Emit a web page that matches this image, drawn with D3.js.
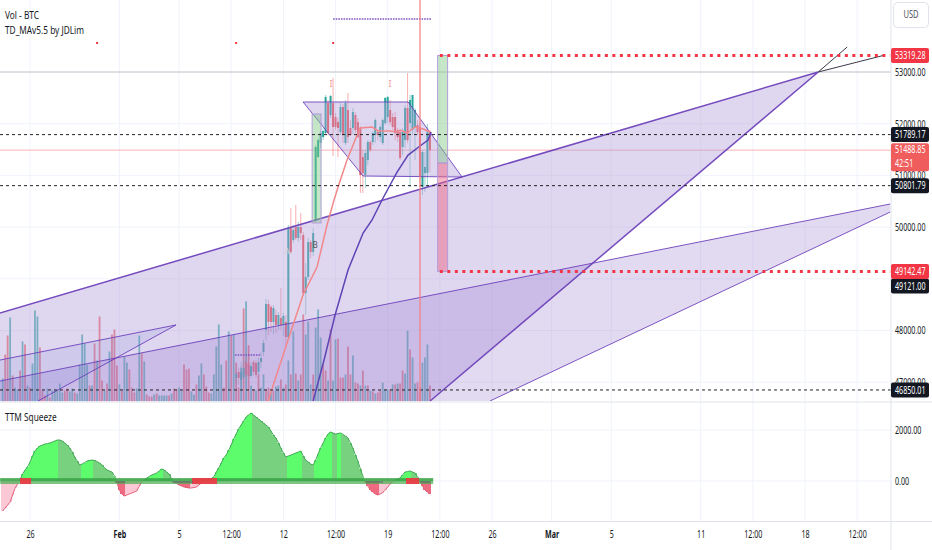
<!DOCTYPE html>
<html>
<head>
<meta charset="utf-8">
<script src="https://cdn.jsdelivr.net/npm/d3@7"></script>
<style>
  html, body { margin: 0; padding: 0; background: #fff; overflow: hidden; }
  text { font-family: "Noto Sans", sans-serif; fill: #131722; }
</style>
</head>
<body>
<script>
// days are counted from 1 Jan, so 1 Feb = 32 and 1 Mar = 61
var timeTicks = [26, 32, 36, 39.5, 43, 46.5, 50, 53.5, 57, 61, 65, 71, 74.5, 78, 81.5];
var timeLabels = ["26", "Feb", "5", "12:00", "12", "12:00", "19", "12:00", "26", "Mar", "5", "11", "12:00", "18", "12:00"];
var priceTicks = [47000, 48000, 49000, 50000, 51000, 52000, 53000];
var ttmTicks = [0, 2000];

var volumes = [23,47,66,84,26,14,12,31,60,57,16,14,38,91,85,54,11,6,13,4,11,11,11,18,9,11,13,10,13,9,
  8,37,67,58,37,16,16,58,41,85,21,11,18,50,67,72,36,17,11,45,39,32,14,9,13,66,48,40,7,5,
  5,7,8,6,6,6,6,6,8,13,12,14,11,37,32,33,10,7,17,26,38,27,15,9,8,27,55,77,
  37,14,41,70,66,67,39,14,34,93,100,56,16,12,11,27,14,27,12,14,
  9,11,15,16,22,14,17,41,27,70,28,21,27,87,67,80,17,27,74,92,
  64,37,31,21,72,21,62,63,24,24,27,55,27,46,19,18,16,31,16,16,
  11,10,8,9,11,19,12,12,12,17,17,18,18,31,28,71,52,44,18,19,14,39,44,57,16];
var volumeSides = "trrtrttrtr" + "trtttrrrtr" + "tttttrrttr" + "tttttrtrtr" + "rtrtrrrtrt" + "trrrttrtrr" + "rtrttttrtr" + "rttrrrttrt" + "trrrtttt" +
  "trrtrtrrtr" + "trtrtrttrr" + "trttrtrtrt" + "rtrrtttrtt" + "trrtrttrrr" + "trrtrrtrtr" + "trtrrtttrt" + "rtrrttrttr" + "rtttr";

// first candle drawn is bar 94, earlier ones are below the pane
var firstCandle = 94;
var candleOpen = [47082,47198,47043,47101,47391,47353,47120,47391,47372,47198,
  47391,47585,48010,48513,48455,48165,48300,48107,48242,48107,
  48165,47874,49983,49750,50002,49789,50002,49847,48725,49035,
  49712,49518,50138,51356,51626,51742,51820,52400,52168,52400,
  52129,52032,51839,52323,51626,52265,51917,51917,52168,52032,
  51917,51356,51008,51298,51646,51646,51781,51839,51742,51626,
  52013,52129,52265,52129,52129,51878,51839,51549,51684,52303,
  52013,51878,51917,51975,51936,50775,51046,51046,51839];
var candleHigh = [47198,47275,47391,47430,47469,47720,47391,47430,47430,47469,
  47585,47816,48609,48590,48493,48493,48397,48358,48822,48339,
  48300,50041,50369,50041,50428,50099,50273,49905,49306,49789,
  49750,49983,51588,51723,51859,51917,52555,52458,52555,52884,
  52207,52110,52400,52381,52458,52594,52071,52303,52226,52110,
  51955,51491,51491,51684,51684,51859,52110,51878,51975,52110,
  52516,52536,52458,52207,52226,51917,51878,51917,52361,52980,
  52555,52555,52303,52071,52032,51491,51452,51994,51878];
var candleLow = [46966,46947,46888,47043,47082,47120,47082,47120,47082,47140,
  47275,47507,47816,47913,47971,47932,47952,48010,48010,47894,
  47720,47816,49480,49692,49750,49712,49750,48667,48300,48977,
  49402,49441,50079,51336,51530,51684,51801,51781,52110,51375,
  51878,51356,51781,51626,51588,51626,51762,51801,51820,51723,
  50660,50660,50756,51201,51452,51588,51626,51684,51646,51588,
  51975,52013,51975,51878,51684,51646,51298,51394,51530,51626,
  50775,51781,51298,51781,50775,50621,50679,50775,51065];
var candleClose = [47159,47082,47198,47275,47140,47120,47314,47198,47140,47391,
  47469,47758,48513,48165,48165,48435,48107,48300,48107,48281,
  47874,49983,49518,49944,49789,50002,49886,48725,49035,49712,
  49518,49886,51549,51684,51820,51859,52516,51820,52536,51936,
  51936,51917,52323,51781,52400,51742,51781,52226,51878,51742,
  51008,51046,51433,51646,51491,51820,52071,51781,51936,52071,
  52497,52516,52032,51936,51820,51742,51336,51839,52303,51684,
  52458,52555,52265,51839,50969,51452,51162,51839,51488.85];

var fastMaDays = [41.97,43.25,44.32,45.26,45.93,46.4,46.67,47.27,47.68,48.15,48.95,49.36,50.16,50.63,50.83,51.3,51.84,52.38,52.85];
var fastMa = [46637,47758,48687,49229,50041,50524,50775,51298,51588,51917,51936,51859,51859,51839,51878,51820,51936,51897,51839];
var slowMaDays = [45,45.73,46.47,47.34,48.35,48.95,49.62,50.16,50.63,51.37,52.17,52.71,52.91];
var slowMa = [46637,47430,48300,49171,49886,50138,50524,50814,51065,51394,51569,51684,51839];

// chart drawings, as [day, price]
var wedgeA = [[23,48256],[78.89,53000],[52.85,46637],[23,46637]];
var wedgeB = [[23,46966],[83.72,50447],[83.72,50292],[56.87,46637],[23,46637]];
var wedgeC = [[23,47372],[35.8,48107],[26.54,46637],[23,46637]];
var channel = [[44.32,52420],[51.37,52420],[54.99,50969],[48.35,50988]];
var tailA = [[78.89,53000],[83.38,53329]];
var tailB = [[78.89,53000],[80.83,53483]];
var smallBox = [[44.93,52188],[45.53,50080]];
var longUpper = [[53.35,53319.28],[54.02,51240]];
var longLower = [[53.35,51240],[54.02,49142.47]];
var targetLevels = [53319.28, 49142.47];
var targetDays = [53.5, 83.72];
var dashedLevels = [51789.17, 50801.79, 46850.01];
var topDotted = [[46.34,54025],[52.91,54025]];
var lowDotted = [[39.76,47527],[41.44,47527]];
var redTicks = [[30.5,53561],[39.83,53561],[46.34,53561]];
var markI = [[46.2,52768],[50.16,52768]];
var nowDay = 52.17;
var lastPrice = 51488.85;

var ttmValues = [-1176,-1058,-941,-823,-549,-274,-118,39,274,431,
  549,745,980,1176,1294,1372,1411,1450,1470,1490,
  1529,1568,1607,1607,1568,1490,1411,1294,1137,941,
  784,627,666,725,784,804,823,804,764,706,
  627,529,431,392,353,196,-78,-353,-510,-588,
  -549,-510,-470,-431,-392,-196,-39,39,118,176,
  235,274,314,392,470,431,353,274,78,-39,
  -98,-157,-196,-235,-255,-274,-274,-255,-235,-157,
  -78,-20,20,59,98,157,353,510,706,902,
  1019,1215,1411,1646,1842,2038,2195,2352,2509,2587,
  2666,2587,2509,2430,2352,2274,2195,2117,1960,1803,
  1686,1490,1294,1098,941,980,1019,1058,1098,1137,
  1176,980,823,745,666,627,823,1058,1294,1490,
  1686,1842,1921,1882,1842,1862,1882,1823,1764,1686,
  1490,1294,1019,784,470,196,-39,-196,-353,-431,
  -510,-549,-510,-451,-353,-235,-118,-20,39,78,
  118,235,353,372,392,353,314,157,-39,-196,
  -353,-431,-510];
var squeezeRuns = [[25.33,26.07],[36.87,38.55],[51.23,52.11]];
var neutralRuns = [[31.77,32.38],[35.53,36.94],[48.55,49.69],[52.17,52.85]];
var zeroBandDays = [24, 53.05];

var width = 932, height = 550;
var axisX = 891, paneBottom = 401.5, lowerBottom = 521;

var x = d3.scaleLinear().domain([26, 78]).range([30, 805]);
var y = d3.scaleLinear().domain([47000, 53000]).range([382.2, 72]);
var yVol = d3.scaleLinear().domain([0, 100]).range([paneBottom, paneBottom - 100]);
var yTtm = d3.scaleLinear().domain([0, 2000]).range([481, 430]);

function barDay(i) { return 24 + (i + 1) / 6; }

// the reference type is much narrower than any installed font
function squeeze(sel, factor) {
  sel.each(function() {
    var tx = +this.getAttribute("x") || 0;
    this.setAttribute("transform", "translate(" + tx * (1 - factor) + ",0) scale(" + factor + ",1)");
  });
}

var svg = d3.select("body").append("svg").attr("width", width).attr("height", height).style("display", "block");

svg.append("clipPath").attr("id", "pricePane").append("rect")
  .attr("x", 0).attr("y", 0).attr("width", axisX).attr("height", paneBottom);

// grid
var grid = svg.append("g").attr("stroke", "#f0f3fa").attr("stroke-width", 1);
timeTicks.forEach(function(d) {
  grid.append("line").attr("x1", x(d)).attr("x2", x(d)).attr("y1", 0).attr("y2", lowerBottom);
});
priceTicks.forEach(function(d) {
  grid.append("line").attr("x1", 0).attr("x2", axisX).attr("y1", y(d)).attr("y2", y(d));
});
ttmTicks.forEach(function(d) {
  grid.append("line").attr("x1", 0).attr("x2", axisX).attr("y1", yTtm(d)).attr("y2", yTtm(d));
});

var pane = svg.append("g").attr("clip-path", "url(#pricePane)");

// volume
pane.append("g").selectAll("rect").data(volumes).enter().append("rect")
  .attr("x", function(d, i) { return x(barDay(i)) - 0.9; })
  .attr("y", function(d) { return yVol(d); })
  .attr("width", 1.8)
  .attr("height", function(d) { return yVol(0) - yVol(d); })
  .attr("fill", function(d, i) { return volumeSides[i] == "t" ? "#26a69a" : "#ef5350"; })
  .attr("opacity", 0.78);

// level lines under the candles
pane.append("line").attr("x1", 0).attr("x2", axisX).attr("y1", y(53000)).attr("y2", y(53000))
  .attr("stroke", "#c4c6cc").attr("stroke-width", 1);
pane.append("line").attr("x1", 0).attr("x2", axisX).attr("y1", y(lastPrice)).attr("y2", y(lastPrice))
  .attr("stroke", "#f9b3b3").attr("stroke-width", 1);

// candles
candleOpen.forEach(function(open, k) {
  var i = firstCandle + k;
  var close = candleClose[k];
  var color = close >= open ? "#26a69a" : "#ef5350";
  var cx = x(barDay(i));
  pane.append("line").attr("x1", cx).attr("x2", cx)
    .attr("y1", y(candleHigh[k])).attr("y2", y(candleLow[k]))
    .attr("stroke", color).attr("stroke-width", 1).attr("opacity", 0.45);
  pane.append("rect").attr("x", cx - 1).attr("width", 2)
    .attr("y", y(Math.max(open, close)))
    .attr("height", Math.max(1, Math.abs(y(open) - y(close))))
    .attr("fill", color);
});

// purple drawings
var area = function(points) {
  return d3.line().x(function(d) { return x(d[0]); }).y(function(d) { return y(d[1]); })(points);
};
var purple = "#673ab7";

pane.append("path").attr("d", area(wedgeA) + "Z").attr("fill", "#b39ddb").attr("fill-opacity", 0.42);
pane.append("path").attr("d", area(wedgeB) + "Z").attr("fill", "#9575cd").attr("fill-opacity", 0.27);
pane.append("path").attr("d", area(wedgeC) + "Z").attr("fill", "#7e88d8").attr("fill-opacity", 0.16);

pane.append("path").attr("d", area(wedgeA.slice(0, 3))).attr("fill", "none").attr("stroke", purple).attr("stroke-width", 1.5).attr("opacity", 0.9);
pane.append("path").attr("d", area(wedgeB.slice(0, 2))).attr("fill", "none").attr("stroke", purple).attr("stroke-width", 1).attr("opacity", 0.85);
pane.append("path").attr("d", area(wedgeB.slice(2, 4))).attr("fill", "none").attr("stroke", purple).attr("stroke-width", 1).attr("opacity", 0.85);
pane.append("path").attr("d", area(wedgeC.slice(0, 3))).attr("fill", "none").attr("stroke", purple).attr("stroke-width", 1).attr("opacity", 0.85);
pane.append("path").attr("d", area(tailA)).attr("stroke", "#3b3a4a").attr("stroke-width", 1);
pane.append("path").attr("d", area(tailB)).attr("stroke", "#3b3a4a").attr("stroke-width", 1);

pane.append("path").attr("d", area(channel) + "Z").attr("fill", "#b39ddb").attr("fill-opacity", 0.42)
  .attr("stroke", purple).attr("stroke-width", 1).attr("stroke-opacity", 0.85);

function box(corners, fill, opacity) {
  pane.append("rect")
    .attr("x", x(corners[0][0])).attr("width", x(corners[1][0]) - x(corners[0][0]))
    .attr("y", y(corners[0][1])).attr("height", y(corners[1][1]) - y(corners[0][1]))
    .attr("fill", fill).attr("fill-opacity", opacity)
    .attr("stroke", "#b39ddb").attr("stroke-width", 1);
}
box(smallBox, "#81c784", 0.45);
box(longUpper, "#81c784", 0.45);
box(longLower, "#ef5f7c", 0.45);

// moving averages
pane.append("path").attr("d", area(d3.zip(fastMaDays, fastMa))).attr("fill", "none").attr("stroke", "#f2888a").attr("stroke-width", 1.5);
pane.append("path").attr("d", area(d3.zip(slowMaDays, slowMa))).attr("fill", "none").attr("stroke", "#5e44b5").attr("stroke-width", 1.5);

// dashed levels
dashedLevels.forEach(function(d) {
  pane.append("line").attr("x1", 0).attr("x2", axisX).attr("y1", y(d)).attr("y2", y(d))
    .attr("stroke", "#222").attr("stroke-width", 1).attr("stroke-dasharray", "3,3");
});

// target levels of the position
targetLevels.forEach(function(d) {
  pane.append("line").attr("x1", x(targetDays[0])).attr("x2", x(targetDays[1])).attr("y1", y(d)).attr("y2", y(d))
    .attr("stroke", "#f23645").attr("stroke-width", 3).attr("stroke-dasharray", "3,4.5");
});

[topDotted, lowDotted].forEach(function(d) {
  pane.append("path").attr("d", area(d)).attr("stroke", "#7e57c2").attr("stroke-width", 1.6).attr("stroke-dasharray", "1.6,1");
});

redTicks.forEach(function(d) {
  pane.append("rect").attr("x", x(d[0]) - 1).attr("y", y(d[1]) - 1).attr("width", 2).attr("height", 2).attr("fill", "#f23645");
});

markI.forEach(function(d) {
  pane.append("text").attr("x", x(d[0])).attr("y", y(d[1]) + 3).attr("text-anchor", "middle")
    .attr("font-size", 9).style("fill", "#ef9a9a").text("I");
});
pane.append("text").attr("x", x(43.25)).attr("y", y(49518) + 3).attr("text-anchor", "middle")
  .attr("font-size", 9).style("fill", "#d8d4dc").text("A");
pane.append("text").attr("x", x(45.13)).attr("y", y(49654) + 3).attr("text-anchor", "middle")
  .attr("font-size", 8).style("fill", "#555").text("B");

// current bar marker runs through the price pane
svg.append("line").attr("x1", x(nowDay)).attr("x2", x(nowDay)).attr("y1", 0).attr("y2", paneBottom)
  .attr("stroke", "#f77c80").attr("stroke-width", 1.4).attr("opacity", 0.85);

// TTM squeeze pane
function ttmColor(d, i) {
  var prev = i > 0 ? ttmValues[i - 1] : d - 1;
  if (d >= 0) return d > prev ? "#5dfc6c" : "#77d17f";
  return d < prev ? "#ee6a80" : "#fcc8d6";
}
svg.append("g").attr("shape-rendering", "crispEdges").selectAll("rect").data(ttmValues).enter().append("rect")
  .attr("x", function(d, i) { return x(barDay(i)) - 1.5; })
  .attr("width", 3)
  .attr("y", function(d) { return Math.min(yTtm(d), yTtm(0)); })
  .attr("height", function(d) { return Math.abs(yTtm(d) - yTtm(0)); })
  .attr("fill", ttmColor);

var ttmLine = d3.line()
  .x(function(d, i) { return x(barDay(i)); })
  .y(function(d) { return yTtm(d); });
svg.append("path").attr("d", ttmLine.defined(function(d) { return d >= 0; })(ttmValues))
  .attr("fill", "none").attr("stroke", "#43a657").attr("stroke-width", 1);
svg.append("path").attr("d", ttmLine.defined(function(d) { return d < 0; })(ttmValues))
  .attr("fill", "none").attr("stroke", "#e8607a").attr("stroke-width", 1);

svg.append("rect").attr("x", x(zeroBandDays[0])).attr("width", x(zeroBandDays[1]) - x(zeroBandDays[0]))
  .attr("y", yTtm(118)).attr("height", yTtm(-118) - yTtm(118)).attr("fill", "#4caf50").attr("opacity", 0.72);
svg.append("rect").attr("x", x(zeroBandDays[0])).attr("width", x(zeroBandDays[1]) - x(zeroBandDays[0]))
  .attr("y", yTtm(98)).attr("height", yTtm(-10) - yTtm(98)).attr("fill", "#2e9e44").attr("opacity", 0.6);
squeezeRuns.forEach(function(d) {
  svg.append("rect").attr("x", x(d[0])).attr("width", x(d[1]) - x(d[0]))
    .attr("y", yTtm(118)).attr("height", yTtm(-118) - yTtm(118)).attr("fill", "#f23645").attr("opacity", 0.9);
});
neutralRuns.forEach(function(d) {
  svg.append("line").attr("x1", x(d[0])).attr("x2", x(d[1])).attr("y1", yTtm(-40)).attr("y2", yTtm(-40))
    .attr("stroke", "#60656f").attr("stroke-width", 1);
});

// pane borders
svg.append("rect").attr("x", axisX).attr("y", 0).attr("width", width - axisX).attr("height", height).attr("fill", "#fff");
svg.append("rect").attr("x", 0).attr("y", lowerBottom).attr("width", width).attr("height", height - lowerBottom).attr("fill", "#fff");
var border = svg.append("g").attr("stroke", "#e0e3eb").attr("stroke-width", 1);
border.append("line").attr("x1", 0).attr("x2", width).attr("y1", paneBottom + 0.5).attr("y2", paneBottom + 0.5);
border.append("line").attr("x1", 0).attr("x2", width).attr("y1", lowerBottom + 0.5).attr("y2", lowerBottom + 0.5);
border.append("line").attr("x1", axisX).attr("x2", axisX).attr("y1", 0).attr("y2", height);

// axes
var priceAxis = svg.append("g").attr("transform", "translate(" + axisX + ",0)")
  .call(d3.axisRight(y).tickValues(priceTicks).tickSize(0).tickPadding(4).tickFormat(d3.format(".2f")));
var ttmAxis = svg.append("g").attr("transform", "translate(" + axisX + ",0)")
  .call(d3.axisRight(yTtm).tickValues(ttmTicks).tickSize(0).tickPadding(4).tickFormat(d3.format(".2f")));
var timeAxis = svg.append("g").attr("transform", "translate(0," + lowerBottom + ")")
  .call(d3.axisBottom(x).tickValues(timeTicks).tickSize(0).tickPadding(10)
    .tickFormat(function(d, i) { return timeLabels[i]; }));

[priceAxis, ttmAxis, timeAxis].forEach(function(axis) {
  axis.select(".domain").remove();
  axis.selectAll("text").attr("font-size", 10.5).attr("font-family", null);
});
timeAxis.selectAll("text")
  .attr("font-weight", function(d, i) { return timeLabels[i] == "Feb" || timeLabels[i] == "Mar" ? "bold" : null; });
squeeze(priceAxis.selectAll("text"), 0.68);
squeeze(ttmAxis.selectAll("text"), 0.68);
squeeze(timeAxis.selectAll("text"), 0.68);

// price tags on the right axis
function priceTag(value, color, shift) {
  var cy = y(value) + shift;
  svg.append("rect").attr("x", axisX).attr("y", cy - 7.5).attr("width", 38).attr("height", 15).attr("rx", 2).attr("fill", color);
  var t = svg.append("text").attr("x", axisX + 4).attr("y", cy + 3.6).attr("font-size", 10.5).style("fill", "#fff")
    .text(d3.format(".2f")(value));
  squeeze(t, 0.68);
}
priceTag(dashedLevels[0], "#131722", 0);
priceTag(dashedLevels[1], "#131722", 0);
priceTag(dashedLevels[2], "#131722", 0);
priceTag(49121, "#131722", 13.5);
priceTag(targetLevels[0], "#f23645", 0);
priceTag(targetLevels[1], "#f23645", 0);

svg.append("rect").attr("x", axisX).attr("y", y(lastPrice) - 7).attr("width", 38).attr("height", 28).attr("rx", 2).attr("fill", "#f05d5d");
squeeze(svg.append("text").attr("x", axisX + 4).attr("y", y(lastPrice) + 3).attr("font-size", 10.5).style("fill", "#fff").text(d3.format(".2f")(lastPrice)), 0.68);
squeeze(svg.append("text").attr("x", axisX + 4).attr("y", y(lastPrice) + 17).attr("font-size", 10.5).style("fill", "#fff").text("42:51"), 0.68);

// USD button
svg.append("rect").attr("x", 893.5).attr("y", 2.5).attr("width", 35).attr("height", 25).attr("rx", 4)
  .attr("fill", "#fff").attr("stroke", "#e0e3eb");
squeeze(svg.append("text").attr("x", 911).attr("y", 18.5).attr("text-anchor", "middle").attr("font-size", 10.5).style("fill", "#50535e").text("USD"), 0.72);

// pane titles
squeeze(svg.append("text").attr("x", 5).attr("y", 19).attr("font-size", 11.5).text("Vol - BTC"), 0.72);
squeeze(svg.append("text").attr("x", 5).attr("y", 34).attr("font-size", 11.5).text("TD_MAv5.5 by JDLim"), 0.72);
squeeze(svg.append("text").attr("x", 5).attr("y", 421).attr("font-size", 11.5).text("TTM Squeeze"), 0.72);
</script>
</body>
</html>
